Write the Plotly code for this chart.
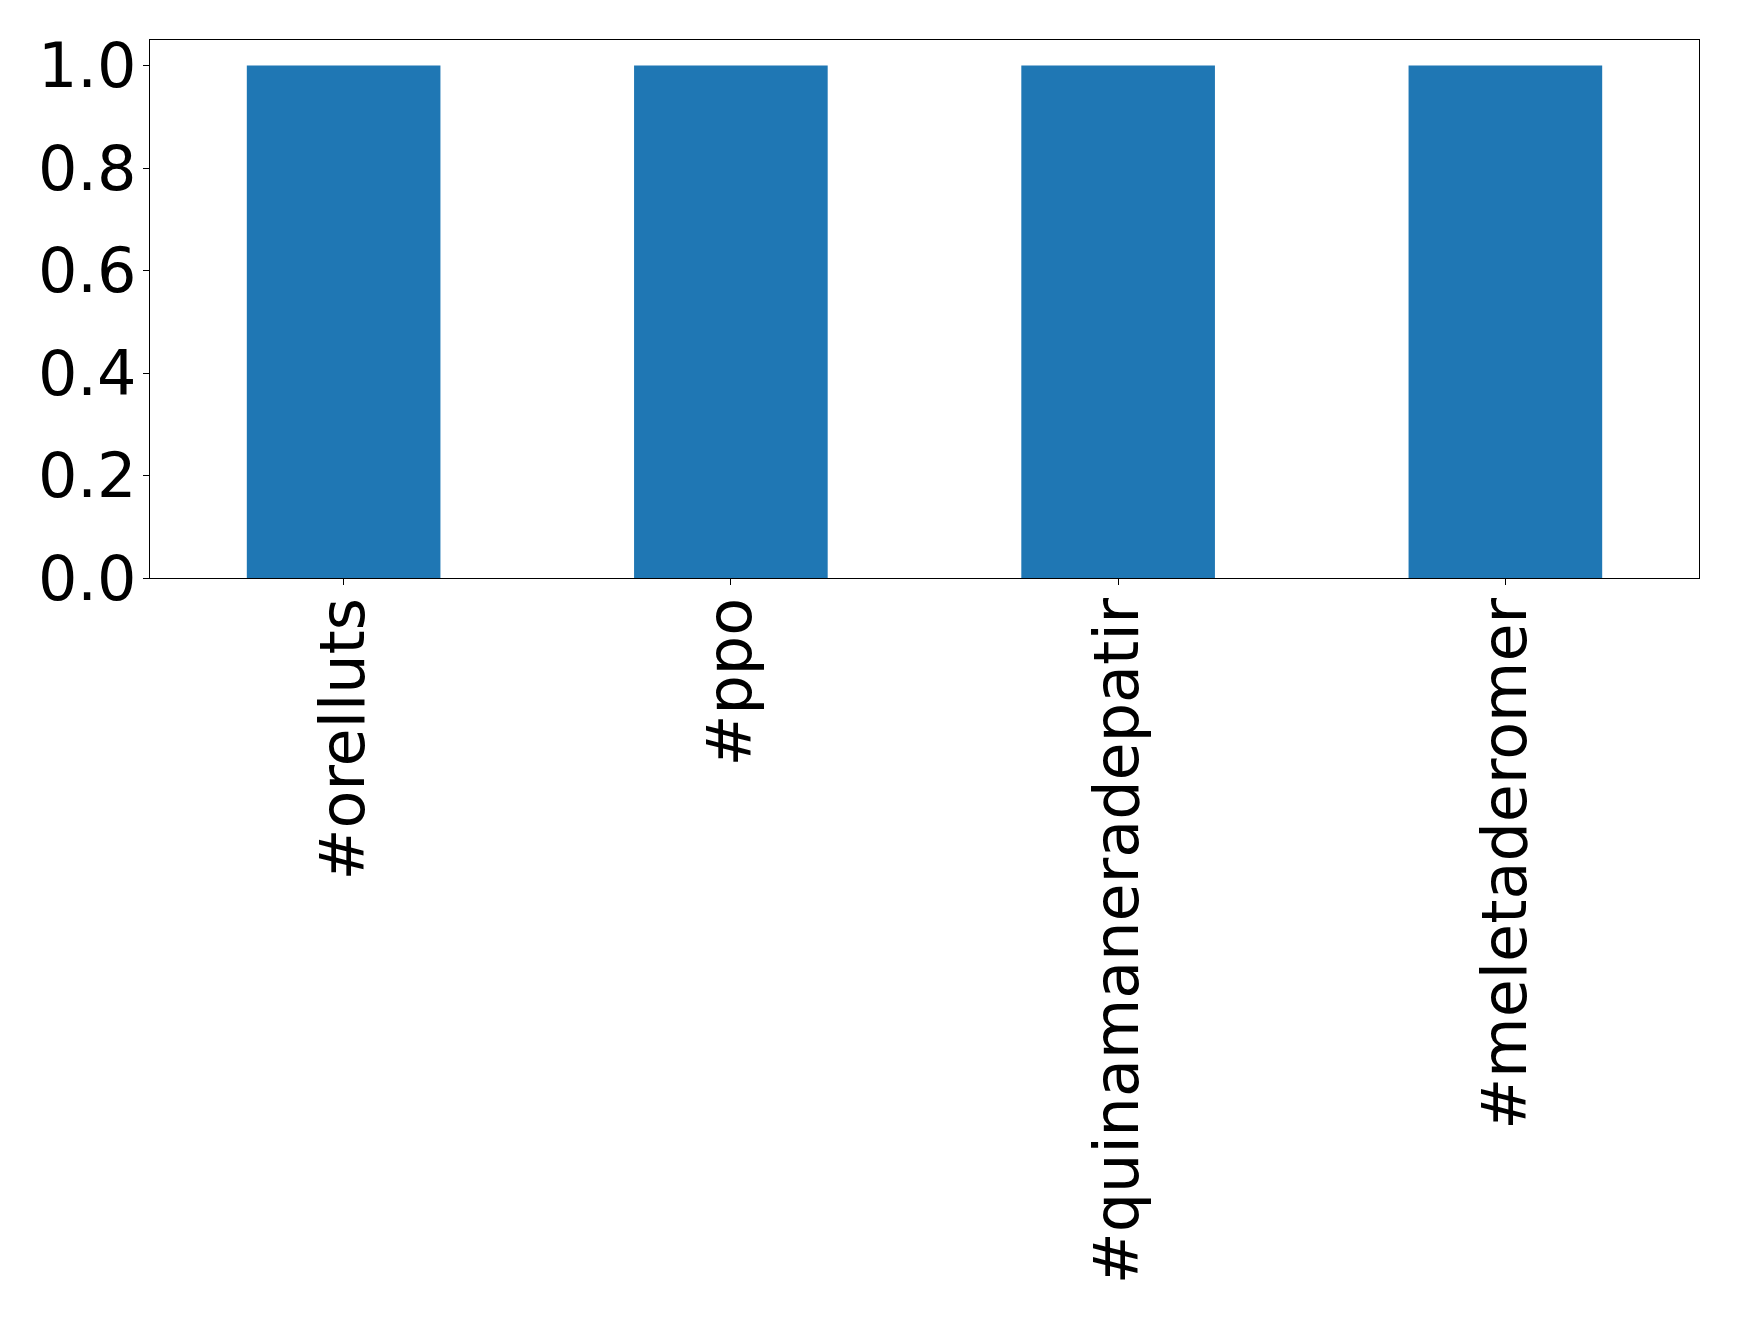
import plotly.graph_objects as go

categories = ["#orelluts", "#ppo", "#quinamaneradepatir", "#meletaderomer"]
values = [1, 1, 1, 1]
y_ticks = [0.0, 0.2, 0.4, 0.6, 0.8, 1.0]
y_tick_labels = ["0.0", "0.2", "0.4", "0.6", "0.8", "1.0"]

W, H = 1739, 1319
FS = 62
fig = go.Figure(go.Bar(x=categories, y=values, marker=dict(color="#1f77b4", line=dict(width=0))))

fig.update_layout(
    width=W, height=H,
    margin=dict(l=142, r=48, t=32, b=749),
    paper_bgcolor="white", plot_bgcolor="white",
    bargap=0.5, showlegend=False,
    font=dict(family="DejaVu Sans", size=FS, color="black"),
)
fig.update_xaxes(
    type="category", range=[-0.5, 3.5], automargin=False,
    showline=True, linecolor="black", linewidth=1.2, mirror=True,
    ticks="outside", ticklen=6, tickwidth=1.2, tickcolor="black",
    tickangle=-90, tickfont=dict(family="DejaVu Sans", size=FS, color="black"),
    ticklabelstandoff=-12,
    showgrid=False, zeroline=False,
)
fig.update_yaxes(
    range=[0, 1.05], tickvals=y_ticks, ticktext=y_tick_labels, automargin=False,
    showline=True, linecolor="black", linewidth=1.2, mirror=True,
    ticks="outside", ticklen=6, tickwidth=1.2, tickcolor="black",
    tickfont=dict(family="DejaVu Sans", size=FS, color="black"),
    ticklabelstandoff=-6,
    showgrid=False, zeroline=False,
)
fig.write_html("out.html")
